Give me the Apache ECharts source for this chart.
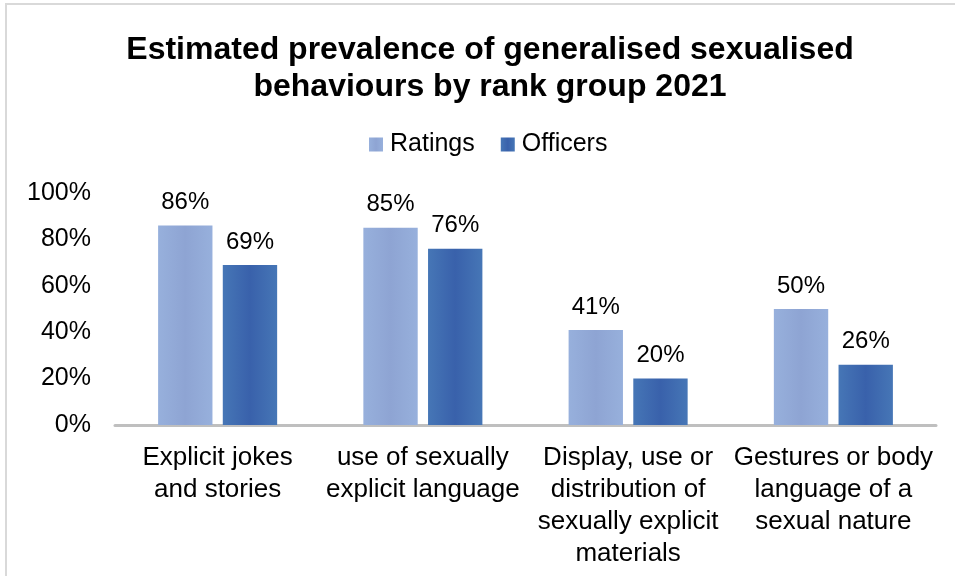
<!DOCTYPE html>
<html>
<head>
<meta charset="utf-8">
<title>Estimated prevalence of generalised sexualised behaviours by rank group 2021</title>
<script src="https://cdn.jsdelivr.net/npm/echarts@6/dist/echarts.min.js"></script>
<style>
  html, body { margin: 0; padding: 0; background: #ffffff; }
  #chart { width: 955px; height: 576px; }
</style>
</head>
<body>
<div id="chart"></div>
<script>
// Behaviour categories (x axis)
const categories = [
  'Explicit jokes\nand stories',
  'use of sexually\nexplicit language',
  'Display, use or\ndistribution of\nsexually explicit\nmaterials',
  'Gestures or body\nlanguage of a\nsexual nature'
];

// Prevalence by rank group, in percent
const ratings = [86, 85, 41, 50];
const officers = [69, 76, 20, 26];

const seriesNames = ['Ratings', 'Officers'];
const yTicks = [0, 20, 40, 60, 80, 100];

const FONT = '"Liberation Sans", Arial, sans-serif';

function barFill(edge, mid) {
  return {
    type: 'linear', x: 0, y: 0, x2: 1, y2: 0,
    colorStops: [
      { offset: 0, color: edge },
      { offset: 0.5, color: mid },
      { offset: 1, color: edge }
    ]
  };
}

const chart = echarts.init(document.getElementById('chart'), null, { renderer: 'canvas' });

chart.setOption({
  backgroundColor: '#ffffff',
  animation: false,
  textStyle: { fontFamily: FONT },
  graphic: [{
    type: 'rect',
    shape: { x: 6, y: 4, width: 1000, height: 700 },
    style: { fill: 'none', stroke: '#d9d9d9', lineWidth: 2 },
    silent: true,
    z: -1
  }],
  title: {
    text: 'Estimated prevalence of generalised sexualised\nbehaviours by rank group 2021',
    left: 485,
    textAlign: 'center',
    top: 27,
    textStyle: {
      fontFamily: FONT,
      fontSize: 32,
      fontWeight: 'bold',
      color: '#000000',
      lineHeight: 37
    }
  },
  legend: {
    data: seriesNames,
    top: 127,
    left: 364,
    itemWidth: 14,
    itemHeight: 14,
    itemGap: 26,
    icon: 'rect',
    textStyle: { fontFamily: FONT, fontSize: 25, color: '#000000', padding: [0, 0, 0, 2] }
  },
  grid: { left: 115, right: 19, top: 193, bottom: 151, containLabel: false },
  xAxis: {
    type: 'category',
    data: categories,
    axisLine: { show: true, lineStyle: { color: '#bfbfbf', width: 3 } },
    axisTick: { show: false },
    axisLabel: {
      interval: 0,
      fontFamily: FONT,
      fontSize: 26,
      color: '#000000',
      lineHeight: 32,
      margin: 17
    }
  },
  yAxis: {
    type: 'value',
    min: yTicks[0],
    max: yTicks[yTicks.length - 1],
    interval: 20,
    splitLine: { show: false },
    axisLine: { show: false },
    axisTick: { show: false },
    axisLabel: {
      formatter: '{value}%',
      fontFamily: FONT,
      fontSize: 25,
      color: '#000000',
      margin: 24
    }
  },
  series: [
    {
      name: seriesNames[0],
      type: 'bar',
      data: ratings,
      barGap: '19%',
      barCategoryGap: '42%',
      itemStyle: { color: barFill('#97B0DC', '#8EA4D3') },
      label: {
        show: true,
        position: 'top',
        distance: 11,
        formatter: '{c}%',
        fontFamily: FONT,
        fontSize: 24,
        color: '#000000'
      }
    },
    {
      name: seriesNames[1],
      type: 'bar',
      data: officers,
      itemStyle: { color: barFill('#4676B6', '#3961AB') },
      label: {
        show: true,
        position: 'top',
        distance: 11,
        formatter: '{c}%',
        fontFamily: FONT,
        fontSize: 24,
        color: '#000000'
      }
    }
  ]
});
</script>
</body>
</html>
